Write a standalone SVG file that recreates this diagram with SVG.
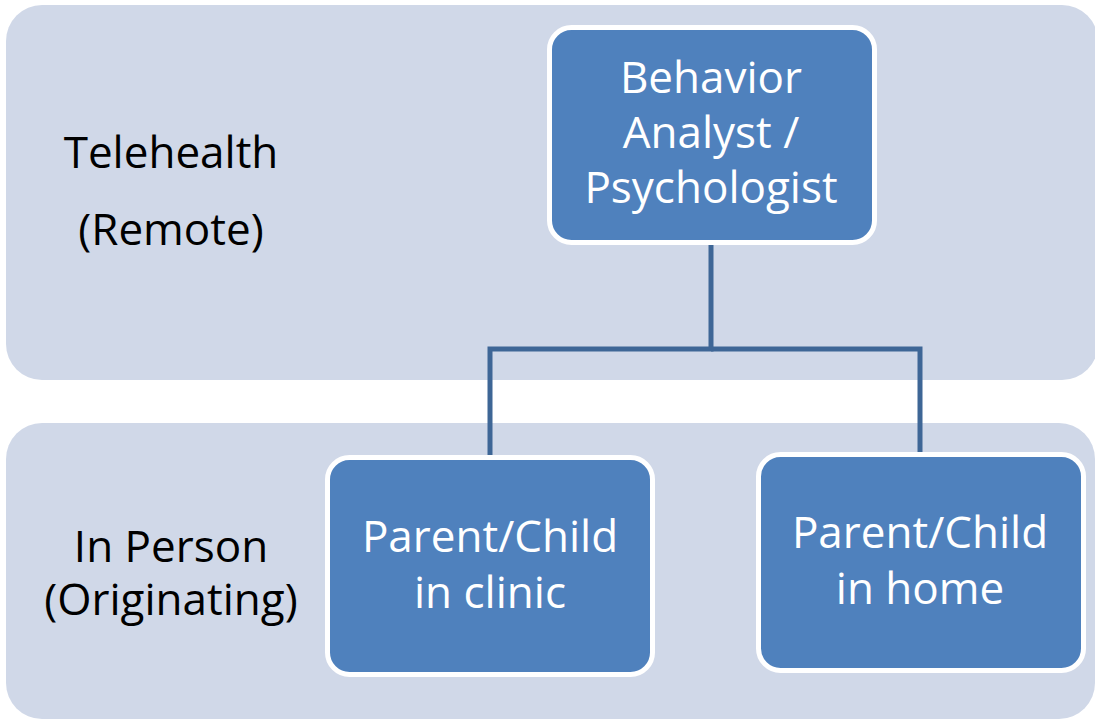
<svg xmlns="http://www.w3.org/2000/svg" width="1095" height="722" viewBox="0 0 1095 722">
<style>
.band{fill:#D0D8E8}
.node{fill:#4F81BD;stroke:#FFFFFF;stroke-width:5}
.nt{font-family:"Open Sans","Liberation Sans",sans-serif;font-size:44px;fill:#FFFFFF;text-anchor:middle}
.lt{font-family:"Open Sans","Liberation Sans",sans-serif;font-size:44px;fill:#000000;text-anchor:middle}
.conn{fill:none;stroke:#3E6696;stroke-width:5}
</style>
<rect width="1095" height="722" fill="#FFFFFF"/>
<g id="band-telehealth">
<rect class="band" x="6" y="5" width="1092" height="375" rx="36"/>
<text class="lt" x="171" y="168">Telehealth</text>
<text class="lt" x="171" y="245">(Remote)</text>
</g>
<g id="band-inperson">
<rect class="band" x="6" y="423" width="1089" height="296" rx="36"/>
<text class="lt" x="171" y="562">In Person</text>
<text class="lt" x="171" y="615">(Originating)</text>
</g>
<g id="connectors">
<polyline class="conn" points="711,243 711,349 490,349 490,456"/>
<polyline class="conn" points="711,349 920,349 920,453"/>
</g>
<g id="node-analyst">
<rect class="node" x="549.5" y="27.5" width="325" height="215" rx="22"/>
<text class="nt" x="711" y="93">Behavior</text>
<text class="nt" x="711" y="148">Analyst /</text>
<text class="nt" x="711" y="203">Psychologist</text>
</g>
<g id="node-clinic">
<rect class="node" x="327.5" y="457.5" width="325" height="217" rx="22"/>
<text class="nt" x="490" y="552">Parent/Child</text>
<text class="nt" x="490" y="608">in clinic</text>
</g>
<g id="node-home">
<rect class="node" x="758.5" y="454.5" width="325" height="216" rx="22"/>
<text class="nt" x="920" y="548">Parent/Child</text>
<text class="nt" x="920" y="604">in home</text>
</g>
</svg>
